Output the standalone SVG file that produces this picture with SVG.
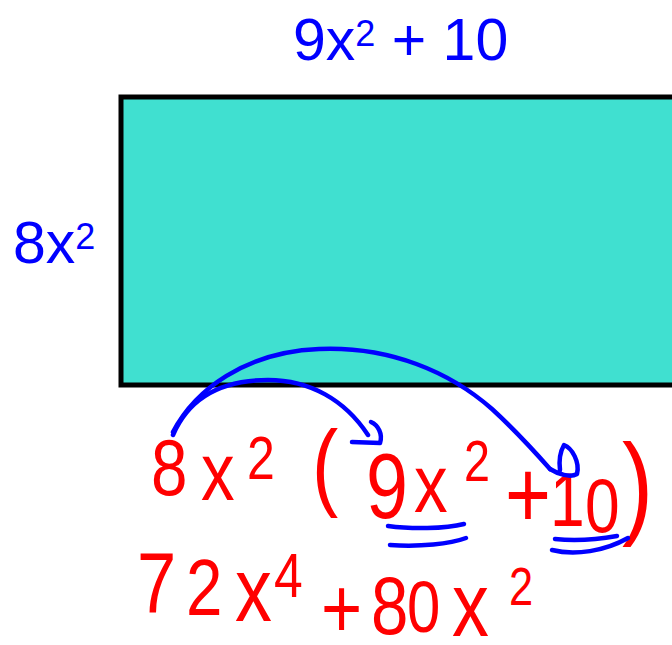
<svg xmlns="http://www.w3.org/2000/svg" width="672" height="645" viewBox="0 0 672 645">
<style>
.lbl{font-family:"Liberation Sans",Arial,sans-serif;fill:#0000ff;font-size:59px}
.sup{font-size:36px}
.hw{font-family:"Liberation Sans",Arial,sans-serif;fill:#ff0000}
.ink{fill:none;stroke:#0000ff;stroke-width:4.5;stroke-linecap:round;stroke-linejoin:round}
</style>
<rect width="672" height="645" fill="#ffffff"/>
<g id="rectangle">
<rect x="121" y="97" width="560" height="288" fill="#40e0d0" stroke="#000000" stroke-width="5"/>
</g>
<g id="label-width">
<text class="lbl" x="293" y="60">9x<tspan class="sup" dy="-14">2</tspan><tspan dy="14"> + 10</tspan></text>
</g>
<g id="label-height">
<text class="lbl" x="13" y="263">8x<tspan class="sup" dy="-14">2</tspan></text>
</g>
<g id="expression">
<text class="hw" transform="scale(0.82,1)"><tspan x="184.1" y="495" font-size="80">8</tspan><tspan x="245.1" y="500" font-size="82">x</tspan><tspan x="301.2" y="479" font-size="61">2</tspan><tspan x="380.5" y="498" font-size="96">(</tspan><tspan x="446.3" y="518" font-size="92">9</tspan><tspan x="504.9" y="512" font-size="82">x</tspan><tspan x="565.9" y="481" font-size="57">2</tspan><tspan x="615.9" y="528" font-size="96">+</tspan><tspan x="670.7" y="526" font-size="76">1</tspan><tspan x="713.4" y="532" font-size="76">0</tspan><tspan x="758.5" y="523" font-size="114">)</tspan></text>
</g>
<g id="result">
<text class="hw" transform="scale(0.82,1)"><tspan x="167.1" y="612" font-size="86">7</tspan><tspan x="226.8" y="615" font-size="80">2</tspan><tspan x="286.6" y="621" font-size="90">x</tspan><tspan x="334.1" y="597" font-size="63">4</tspan><tspan x="391.5" y="638" font-size="86">+</tspan><tspan x="452.4" y="634" font-size="82">8</tspan><tspan x="496.3" y="632" font-size="73">0</tspan><tspan x="551.2" y="636" font-size="90">x</tspan><tspan x="620.7" y="605" font-size="53">2</tspan></text>
</g>
<g id="connectors">
<path class="ink" d="M173,435 C190,395 225,380 268,380 C310,380 345,400 368,435"/>
<path class="ink" d="M352,442 L380,443 C383,434 378,425 371,422"/>
<path class="ink" d="M173,432 C195,390 245,352 319,349 C390,346 450,372 492,409 C515,430 535,452 550,469"/>
<path class="ink" d="M550,469 C558,474 570,478 577,474 C580,462 572,448 564,445 C560,452 559,462 560,470"/>
<path class="ink" d="M388,526 C410,529 445,529 464,524"/>
<path class="ink" d="M390,545 C420,547 450,544 466,538"/>
<path class="ink" d="M555,539 C575,541 600,539 617,536"/>
<path class="ink" d="M552,550 C575,556 605,551 628,538"/>
</g>
</svg>
